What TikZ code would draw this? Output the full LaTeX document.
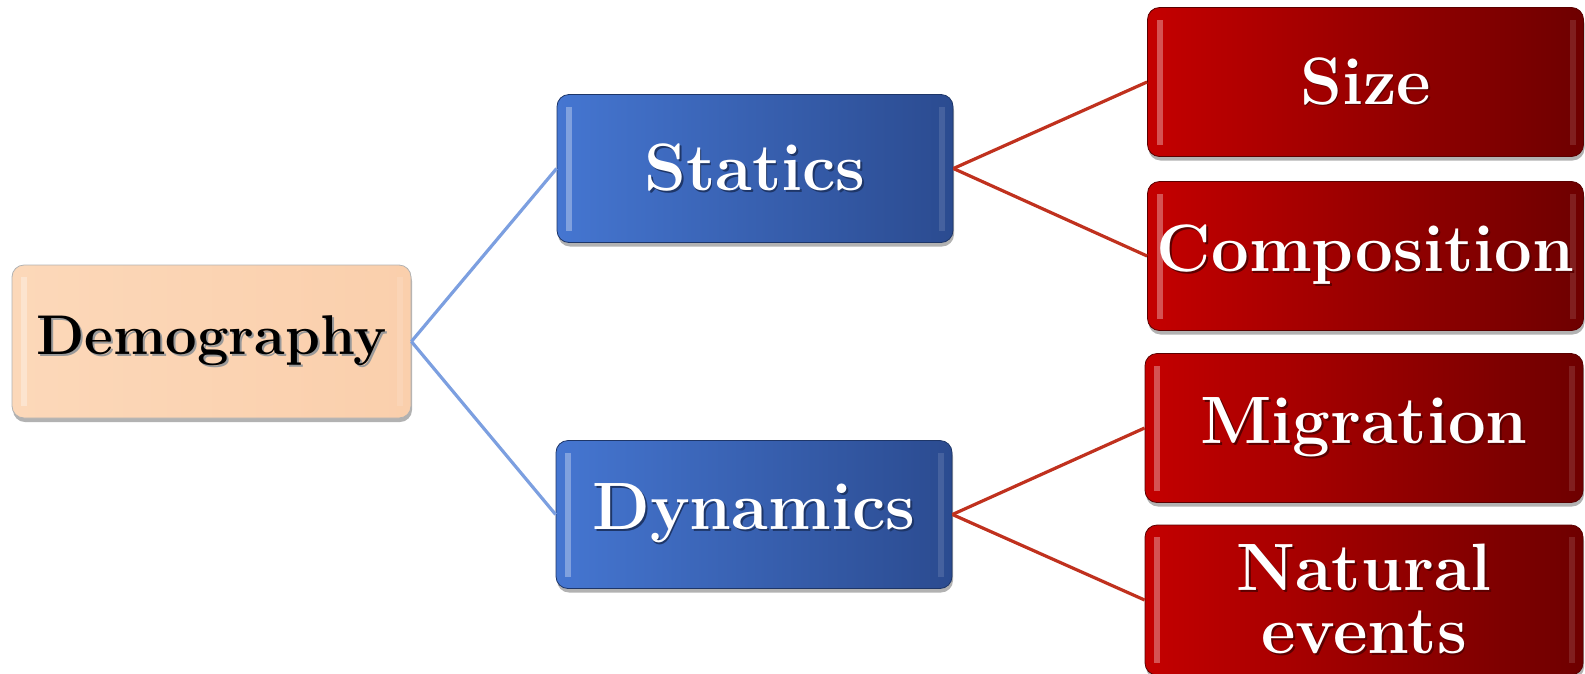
\documentclass[tikz,border=0pt]{standalone}
\usepackage{fontspec}
\usetikzlibrary{shadows}
\definecolor{peach}{HTML}{FCD8B9}
\definecolor{peachdark}{HTML}{FACFAC}
\definecolor{blueL}{HTML}{4576D1}
\definecolor{blueR}{HTML}{2B4B90}
\definecolor{blueEdge}{HTML}{1E3668}
\definecolor{redL}{HTML}{C40000}
\definecolor{redR}{HTML}{6E0000}
\definecolor{redEdge}{HTML}{5A0000}
\definecolor{blueline}{HTML}{7C9FE0}
\definecolor{redline}{HTML}{C0311E}
\newcommand\shtxt[2]{\makebox[0pt][l]{\raisebox{-1.8pt}{\hspace{1.8pt}\color{#1}#2}}#2}
\tikzset{
  x=1pt, y=-1pt,
  basebox/.style={rounded corners=12pt, inner sep=0pt, align=center,
    font=\bfseries\fontsize{67}{65}\selectfont,
    drop shadow={shadow xshift=1pt, shadow yshift=-4pt, opacity=.3, fill=black},
    path picture={
      \fill[sharp corners,white,opacity=.32] ([xshift=9pt,yshift=12pt]path picture bounding box.south west) rectangle ([xshift=15pt,yshift=-12pt]path picture bounding box.north west);
      \fill[sharp corners,white,opacity=.12] ([xshift=-14pt,yshift=12pt]path picture bounding box.south east) rectangle ([xshift=-8pt,yshift=-12pt]path picture bounding box.north east);
    }},
  rootbox/.style={basebox, draw=black!30, line width=0.8pt, left color=peach, right color=peachdark,
    text=black, minimum width=399pt, minimum height=153pt,
    font=\bfseries\fontsize{56}{56}\selectfont},
  midbox/.style={basebox, draw=blueEdge, line width=0.8pt, left color=blueL, right color=blueR,
    text=white, minimum width=396pt, minimum height=148pt},
  leafbox/.style={basebox, draw=redEdge, line width=0.8pt, left color=redL, right color=redR,
    text=white, minimum width=436pt, minimum height=149pt},
  bline/.style={draw=blueline, line width=3.2pt},
  rline/.style={draw=redline, line width=3.2pt},
}
\begin{document}
\begin{tikzpicture}
\useasboundingbox (0,0) rectangle (1585,673);
\node[rootbox] (demo) at (211.5,341.5) {\shtxt{black!40}{Demography}};
\node[midbox] (stat) at (755,168.5) {\shtxt{blueEdge}{Statics}};
\node[midbox] (dyn) at (754,514.5) {\shtxt{blueEdge}{Dynamics}};
\node[leafbox] (size) at (1365.5,82) {\shtxt{redEdge}{Size}};
\node[leafbox] (comp) at (1365.5,256) {\shtxt{redEdge}{Composition}};
\node[leafbox, minimum width=438pt] (migr) at (1364,428) {\shtxt{redEdge}{Migration}};
\node[leafbox, minimum width=438pt, minimum height=150pt] (nat) at (1364,600) {\shtxt{redEdge}{Natural}\\[-2pt]\shtxt{redEdge}{events}};
\draw[bline] (demo.east) -- (stat.west);
\draw[bline] (demo.east) -- (dyn.west);
\draw[rline] (stat.east) -- (size.west);
\draw[rline] (stat.east) -- (comp.west);
\draw[rline] (dyn.east) -- (migr.west);
\draw[rline] (dyn.east) -- (nat.west);
\end{tikzpicture}
\end{document}
